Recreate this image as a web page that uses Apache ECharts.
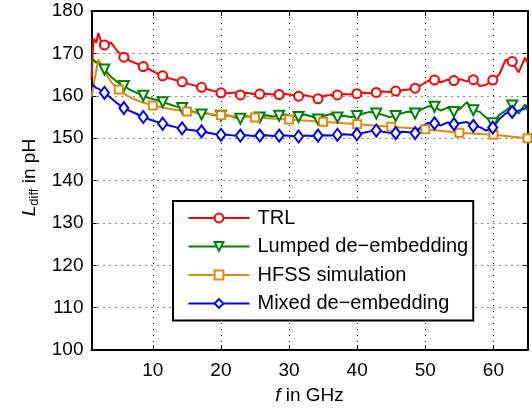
<!DOCTYPE html>
<html><head><meta charset="utf-8">
<script src="https://cdn.jsdelivr.net/npm/echarts@6/dist/echarts.min.js"></script>
<style>html,body{margin:0;padding:0;background:#fff}#c{width:532px;height:412px}</style>
</head><body><div id="c"></div>
<script>
// Frequency samples (GHz) shared by TRL, Lumped and Mixed curves
const freqs = [1.0, 1.3, 1.7, 2.0, 2.4, 2.9, 3.85, 4.8, 5.75, 6.7, 7.65, 8.6, 9.55, 10.5, 11.45,
  12.4, 13.35, 14.3, 15.25, 16.2, 17.15, 18.1, 19.05, 20.0, 20.95, 21.9, 22.85, 23.8, 24.75, 25.7,
  26.65, 27.6, 28.55, 29.5, 30.45, 31.4, 32.35, 33.3, 34.25, 35.2, 36.15, 37.1, 38.05, 39.0, 39.95,
  40.9, 41.85, 42.8, 43.75, 44.7, 45.65, 46.6, 47.55, 48.5, 49.45, 50.4, 51.35, 52.3, 53.25, 54.2,
  55.15, 56.1, 57.05, 58.0, 58.95, 59.9, 60.85, 61.8, 62.75, 63.7, 64.65, 65.0];
// Frequencies where markers are shown (TRL, Lumped, Mixed)
const markerFreqs = [2.9, 5.75, 8.6, 11.45, 14.3, 17.15, 20.0, 22.85, 25.7, 28.55, 31.4, 34.25,
  37.1, 39.95, 42.8, 45.65, 48.5, 51.35, 54.2, 57.05, 59.9, 62.75];

const trl = [164.0, 173.5, 172.5, 174.8, 172.8, 172.0, 172.6, 170.5, 169.1, 168.2, 167.6, 166.9, 166.2, 165.4, 164.7,
  164.1, 163.7, 163.3, 162.8, 162.4, 162.0, 161.5, 161.1, 160.7, 160.6, 160.8, 160.2, 160.7, 160.4, 160.4,
  160.5, 160.3, 160.3, 160.4, 160.2, 159.9, 160.1, 159.8, 159.3, 160.0, 160.2, 160.2, 160.4, 160.3, 160.5,
  160.7, 160.6, 160.8, 161.0, 160.9, 161.1, 161.3, 161.5, 161.8, 162.6, 163.5, 163.7, 163.2, 163.8, 163.6,
  163.9, 163.4, 163.8, 162.3, 162.6, 163.7, 165.0, 168.5, 168.1, 165.5, 169.0, 167.8];

const lumped = [168.0, 168.5, 167.8, 168.3, 167.0, 166.2, 164.5, 163.2, 162.3, 161.4, 160.7, 160.0, 159.4, 159.0, 158.5,
  158.0, 157.5, 157.1, 156.6, 156.1, 155.6, 155.8, 155.4, 155.3, 155.4, 155.0, 154.6, 155.2, 155.0, 154.9,
  155.4, 155.1, 155.3, 155.6, 155.2, 155.0, 155.6, 155.1, 154.4, 155.3, 155.7, 154.9, 155.3, 155.0, 155.2,
  155.8, 156.2, 155.8, 155.5, 155.0, 155.2, 155.9, 156.3, 155.8, 156.8, 157.5, 157.4, 156.5, 157.2, 156.2,
  157.0, 158.5, 156.6, 156.2, 154.8, 153.5, 155.5, 156.5, 157.7, 155.8, 158.0, 156.6];

const mixed = [162.2, 162.5, 161.8, 161.7, 161.2, 160.7, 159.5, 158.2, 157.1, 156.4, 155.7, 155.0, 154.4, 153.9, 153.4,
  153.0, 152.6, 152.3, 152.0, 151.8, 151.6, 151.3, 151.0, 150.8, 150.8, 150.6, 150.6, 150.7, 150.5, 150.6,
  150.7, 150.5, 150.6, 150.6, 150.5, 150.4, 150.6, 150.5, 150.6, 150.7, 150.6, 150.8, 150.9, 150.8, 150.9,
  151.3, 151.6, 151.8, 151.5, 151.3, 151.2, 151.5, 151.4, 151.2, 152.8, 153.6, 153.5, 153.0, 153.7, 153.3,
  153.6, 153.8, 152.9, 152.6, 151.8, 152.5, 154.5, 155.8, 156.2, 156.5, 157.0, 157.5];

// HFSS simulation
const hfssFreqs = [1.0, 1.5, 2.0, 2.5, 3.0, 3.5, 4.0, 4.5, 5.0, 6.0, 7.0, 8.0, 9.0, 10.0, 12.5, 15.0,
  17.5, 20.0, 25.0, 30.0, 35.0, 40.0, 45.0, 50.0, 55.0, 60.0, 65.0];
const hfss = [159.7, 164.2, 168.6, 167.2, 165.4, 164.2, 163.0, 162.2, 161.5, 160.3, 159.4, 158.7, 158.2, 157.7, 156.9, 156.3,
  155.8, 155.4, 154.9, 154.4, 153.9, 153.3, 152.7, 152.1, 151.3, 150.8, 150.0];
const hfssMarkerFreqs = [5, 10, 15, 20, 25, 30, 35, 40, 45, 50, 55, 60, 65];

const seriesNames = ['TRL', 'Lumped de\u2212embedding', 'HFSS simulation', 'Mixed de\u2212embedding'];

const pair = (xs, ys) => xs.map((x, i) => [x, ys[i]]);
const mk = new Set(markerFreqs);
const hmk = new Set(hfssMarkerFreqs);
const FONT = 'Liberation Sans, Arial, sans-serif';

function lineSeries(name, data, color, symbol, size, set, rot) {
  return {
    name, type: 'line', data, symbol, symbolRotate: rot || 0,
    symbolSize: (v) => set.has(v[0]) ? size : 0,
    showAllSymbol: true, showSymbol: true, clip: true,
    lineStyle: { color, width: 2 },
    itemStyle: { color, borderWidth: 1.6 },
    emphasis: { disabled: true }
  };
}

const chart = echarts.init(document.getElementById('c'), null, { renderer: 'canvas' });
const axisCommon = {
  axisLine: { lineStyle: { color: '#000', width: 2 } },
  axisTick: { inside: true, length: 5, lineStyle: { color: '#000', width: 1 } }
};
chart.setOption({
  animation: false,
  backgroundColor: '#fff',
  grid: { left: 91.5, right: 4.5, top: 11, bottom: 57, containLabel: false },
  legend: {
    orient: 'vertical', left: 173, top: 201,
    data: seriesNames,
    backgroundColor: '#fff', borderColor: '#000', borderWidth: 2,
    padding: [6, 5, 6, 14.5],
    itemWidth: 61, itemHeight: 11, itemGap: 6.5,
    textStyle: { fontFamily: FONT, fontSize: 20, color: '#000', lineHeight: 22, padding: [0, 0, 0, 3] },
    selectedMode: false
  },
  xAxis: [{
    type: 'value', min: 1, max: 65, position: 'bottom',
    ...axisCommon,
    axisLabel: { fontFamily: FONT, fontSize: 19, color: '#000', margin: 11, showMinLabel: false, showMaxLabel: false },
    splitLine: { show: true, lineStyle: { color: '#111', width: 1, type: [1, 5] } },
    name: '{it|f} in GHz', nameLocation: 'middle', nameGap: 34,
    nameTextStyle: { fontFamily: FONT, fontSize: 19, color: '#000', lineHeight: 22,
      rich: { it: { fontStyle: 'italic', fontFamily: FONT, fontSize: 19, lineHeight: 22 } } }
  }, {
    type: 'value', min: 1, max: 65, position: 'top',
    ...axisCommon,
    axisLabel: { show: false }, splitLine: { show: false }
  }],
  yAxis: [{
    type: 'value', min: 100, max: 180, interval: 10, position: 'left',
    ...axisCommon,
    axisLabel: { fontFamily: FONT, fontSize: 19, color: '#000', margin: 8 },
    splitLine: { show: true, lineStyle: { color: '#111', width: 1, type: [1, 5] } },
    name: '{it|L}{sub|diff}{n| in pH}', nameLocation: 'middle', nameGap: 50, nameRotate: 90,
    nameTextStyle: { fontFamily: FONT, fontSize: 19, color: '#000', lineHeight: 22, padding: [0, 0, 0, 6],
      rich: {
        it: { fontStyle: 'italic', fontFamily: FONT, fontSize: 19, lineHeight: 22 },
        sub: { fontFamily: FONT, fontSize: 13, lineHeight: 13, verticalAlign: 'bottom' },
        n: { fontFamily: FONT, fontSize: 19, lineHeight: 22 }
      } }
  }, {
    type: 'value', min: 100, max: 180, interval: 10, position: 'right',
    ...axisCommon,
    axisLabel: { show: false }, splitLine: { show: false }
  }],
  series: [
    lineSeries(seriesNames[0], pair(freqs, trl), '#ff0000', 'emptyCircle', 9, mk),
    lineSeries(seriesNames[1], pair(freqs, lumped), '#008000', 'emptyTriangle', 10, mk, 180),
    lineSeries(seriesNames[2], pair(hfssFreqs, hfss), '#de8a12', 'emptyRect', 8, hmk),
    lineSeries(seriesNames[3], pair(freqs, mixed), '#0000ff', 'emptyDiamond', [9, 12], mk)
  ]
});
</script></body></html>
